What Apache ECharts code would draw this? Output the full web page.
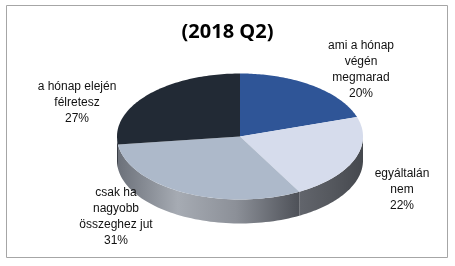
<!DOCTYPE html>
<html>
<head>
<meta charset="utf-8">
<script src="https://cdn.jsdelivr.net/npm/echarts@6/dist/echarts.min.js"></script>
<style>
html,body{margin:0;padding:0;background:#fff;}
#chart{width:455px;height:266px;}
</style>
</head>
<body>
<div id="chart"></div>
<script>
// ---- data ----
const title = '(2018 Q2)';
const categories = ['ami a hónap\nvégén\nmegmarad', 'egyáltalán\nnem', 'csak ha\nnagyobb\nösszeghez jut', 'a hónap elején\nfélretesz'];
const values = [20, 22, 31, 27];

// ---- styles / layout ----
const topColors = ['#2f5597', '#d6dcec', '#adb9ca', '#222a35'];
const sideStops = [
  [['#3a4150', 0], ['#2a303b', 1]],
  [['#62656c', 0], ['#55585e', 0.5], ['#45484e', 1]],
  [['#6c717a', 0], ['#a6abb3', 0.33], ['#8c9098', 0.65], ['#4e5158', 1]],
  [['#3a3f48', 0], ['#2c3038', 1]]
];
const labelPos = [[361, 38], [402, 166], [116, 185], [77, 79]];
const geo = {cx: 240, cy: 136.5, rx: 123, ry: 63, depth: 24};

const total = values.reduce((a, b) => a + b, 0);
const starts = [];
values.reduce((acc, v, i) => { starts[i] = acc; return acc + v; }, 0);

function pt(t, dy) {
  return [geo.cx + geo.rx * Math.sin(t), geo.cy - geo.ry * Math.cos(t) + (dy || 0)];
}

function renderItem(params, api) {
  const i = params.dataIndex;
  const v = api.value(0);
  const a0 = starts[i] / total * Math.PI * 2;
  const a1 = a0 + v / total * Math.PI * 2;
  const children = [];
  // side wall (front half)
  const s0 = Math.max(a0, Math.PI / 2), s1 = Math.min(a1, Math.PI * 1.5);
  if (s1 > s0) {
    const pts = [];
    const n = 60;
    for (let k = 0; k <= n; k++) pts.push(pt(s0 + (s1 - s0) * k / n, 0));
    for (let k = n; k >= 0; k--) pts.push(pt(s0 + (s1 - s0) * k / n, geo.depth));
    const xs = pts.map(p => p[0]);
    const x0 = Math.min.apply(null, xs), x1 = Math.max.apply(null, xs);
    const grad = {
      type: 'linear', x: x0, y: 0, x2: x1, y2: 0, global: true,
      colorStops: sideStops[i].map(s => ({offset: s[1], color: s[0]}))
    };
    children.push({type: 'polygon', shape: {points: pts}, style: {fill: grad}});
  }
  // top face
  const top = [[geo.cx, geo.cy]];
  const n2 = 80;
  for (let k = 0; k <= n2; k++) top.push(pt(a0 + (a1 - a0) * k / n2, 0));
  children.push({type: 'polygon', shape: {points: top}, style: {fill: topColors[i]}});
  // label
  children.push({
    type: 'text',
    style: {
      text: categories[i] + '\n' + v + '%',
      x: labelPos[i][0], y: labelPos[i][1],
      align: 'center', verticalAlign: 'top',
      font: '12px Arial, "Liberation Sans", sans-serif',
      lineHeight: 16, fill: '#111'
    }
  });
  return {type: 'group', children: children};
}

const chart = echarts.init(document.getElementById('chart'), null, {renderer: 'canvas'});
chart.setOption({
  animation: false,
  backgroundColor: '#fff',
  title: {
    text: title, left: 'center', top: 17,
    textStyle: {fontSize: 20, fontWeight: 'bold', color: '#000', fontFamily: '"Open Sans", Arial, sans-serif'}
  },
  graphic: [{
    type: 'rect', shape: {x: 6.5, y: 5.5, width: 441, height: 252},
    style: {fill: 'none', stroke: '#a6a6a6', lineWidth: 1}, z: -10
  }],
  series: [{
    type: 'custom',
    coordinateSystem: 'none',
    renderItem: renderItem,
    data: values.map((v, i) => ({value: [v], name: categories[i]}))
  }]
});
</script>
</body>
</html>
